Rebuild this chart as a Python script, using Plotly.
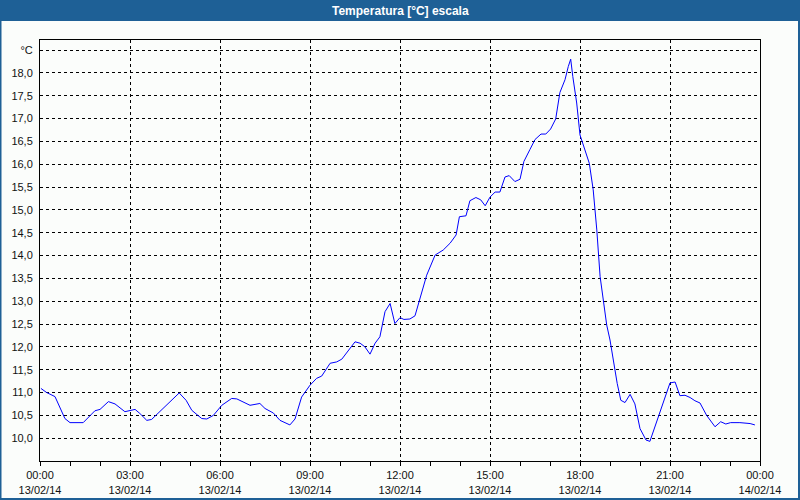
import plotly.graph_objects as go

# Time in hours since 13/02/14 00:00
hours = [0.03, 0.22, 0.5, 0.83, 1.0, 1.28, 1.44, 1.83, 2.0, 2.28, 2.5, 2.83, 3.0, 3.17, 3.33, 3.56, 3.72,
         4.33, 4.64, 4.87, 5.06, 5.39, 5.56, 5.78, 6.06, 6.39, 6.56, 7.0, 7.33, 7.5, 7.78, 8.0, 8.33, 8.5,
         8.72, 9.0, 9.22, 9.39, 9.67, 9.89, 10.06, 10.5, 10.67, 10.83, 11.0, 11.17, 11.33, 11.5, 11.67,
         11.83, 12.0, 12.13, 12.33, 12.5, 12.67, 12.89, 13.17, 13.44, 13.67, 13.87, 13.98, 14.2, 14.33,
         14.53, 14.69, 14.84, 15.0, 15.17, 15.33, 15.5, 15.64, 15.83, 16.0, 16.13, 16.33, 16.5, 16.7,
         16.86, 17.02, 17.19, 17.33, 17.5, 17.61, 17.69, 17.76, 17.89, 18.0, 18.17, 18.31, 18.44, 18.56,
         18.67, 18.78, 18.89, 19.0, 19.11, 19.24, 19.36, 19.5, 19.67, 19.83, 20.0, 20.2, 20.33, 20.56,
         20.78, 21.0, 21.17, 21.33, 21.5, 21.67, 21.83, 22.0, 22.22, 22.5, 22.69, 22.86, 23.02, 23.33,
         23.67, 23.83]
temps = [11.09, 11.0, 10.91, 10.43, 10.34, 10.33, 10.34, 10.6, 10.63, 10.8, 10.75, 10.58, 10.6, 10.63, 10.54,
         10.39, 10.41, 10.8, 10.99, 10.83, 10.61, 10.43, 10.42, 10.5, 10.72, 10.87, 10.86, 10.72, 10.76,
         10.65, 10.55, 10.39, 10.29, 10.42, 10.9, 11.16, 11.31, 11.36, 11.64, 11.67, 11.73, 12.11, 12.08,
         12.0, 11.84, 12.08, 12.22, 12.77, 12.95, 12.51, 12.64, 12.6, 12.61, 12.68, 13.08, 13.57, 14.01,
         14.12, 14.27, 14.45, 14.85, 14.87, 15.2, 15.27, 15.22, 15.09, 15.28, 15.39, 15.39, 15.72, 15.75,
         15.62, 15.67, 16.06, 16.32, 16.54, 16.66, 16.66, 16.77, 16.99, 17.57, 17.85, 18.14, 18.3, 17.92,
         17.34, 16.64, 16.32, 16.02, 15.44, 14.56, 13.54, 12.95, 12.48, 12.15, 11.71, 11.2, 10.83, 10.78,
         10.96, 10.75, 10.21, 9.96, 9.93, 10.36, 10.8, 11.21, 11.23, 10.93, 10.94, 10.89, 10.82, 10.77,
         10.5, 10.25, 10.36, 10.31, 10.34, 10.34, 10.32, 10.29]

x_tickvals = [0, 3, 6, 9, 12, 15, 18, 21, 24]
x_ticktext = ["00:00<br>13/02/14", "03:00<br>13/02/14", "06:00<br>13/02/14", "09:00<br>13/02/14",
              "12:00<br>13/02/14", "15:00<br>13/02/14", "18:00<br>13/02/14", "21:00<br>13/02/14",
              "00:00<br>14/02/14"]
y_tickvals = [10.0, 10.5, 11.0, 11.5, 12.0, 12.5, 13.0, 13.5, 14.0, 14.5, 15.0, 15.5, 16.0, 16.5,
              17.0, 17.5, 18.0, 18.5]
y_ticktext = ["10,0", "10,5", "11,0", "11,5", "12,0", "12,5", "13,0", "13,5", "14,0", "14,5", "15,0",
              "15,5", "16,0", "16,5", "17,0", "17,5", "18,0", "°C"]
title = "Temperatura [°C] escala"

W, H = 800, 500
L, R, T, B = 40, 40, 40, 39
pw, ph = W - L - R, H - T - B

def px(xp):
    return (xp - L) / pw

def py(yp):
    return (H - B - yp) / ph

BLUE = "rgb(30,96,150)"
BG = "rgb(251,253,251)"
FONT = "Liberation Sans, Arial, sans-serif"

fig = go.Figure()
fig.add_trace(go.Scatter(x=hours, y=temps, mode="lines",
                         line=dict(color="#0000ff", width=1), hoverinfo="skip"))

shapes = [
    dict(type="rect", xref="paper", yref="paper", x0=px(0), x1=px(W), y0=py(21), y1=py(0),
         fillcolor=BLUE, line=dict(width=0), layer="below"),
    dict(type="rect", xref="paper", yref="paper", x0=px(0), x1=px(1.5), y0=py(H), y1=py(0),
         fillcolor=BLUE, line=dict(width=0), layer="below"),
    dict(type="rect", xref="paper", yref="paper", x0=px(W - 2), x1=px(W), y0=py(H), y1=py(0),
         fillcolor=BLUE, line=dict(width=0), layer="below"),
    dict(type="rect", xref="paper", yref="paper", x0=px(0), x1=px(W), y0=py(H), y1=py(H - 2),
         fillcolor=BLUE, line=dict(width=0), layer="below"),
]

fig.update_layout(
    width=W, height=H, autosize=False,
    margin=dict(l=L, r=R, t=T, b=B, autoexpand=False),
    paper_bgcolor=BG, plot_bgcolor=BG,
    showlegend=False,
    font=dict(family=FONT, size=11, color="#111111"),
    shapes=shapes,
    annotations=[dict(text="<b>" + title + "</b>", xref="paper", yref="paper",
                      x=px(W / 2), y=py(10.5), xanchor="center", yanchor="middle",
                      showarrow=False, font=dict(color="white", size=12, family=FONT))],
)

fig.update_xaxes(range=[0, 24], tickvals=x_tickvals, ticktext=x_ticktext, tickangle=0,
                 showgrid=True, gridcolor="black", gridwidth=1, griddash="3px,3px",
                 showline=True, linecolor="black", linewidth=1, mirror=True,
                 ticks="outside", ticklen=4, tickcolor="black", zeroline=False,
                 minor=dict(dtick=1, ticks="outside", ticklen=4, tickcolor="black", showgrid=False))
fig.update_yaxes(range=[9.5, 18.72], tickvals=y_tickvals, ticktext=y_ticktext,
                 showgrid=True, gridcolor="black", gridwidth=1, griddash="3px,3px",
                 showline=True, linecolor="black", linewidth=1, mirror=True,
                 ticks="", ticklabelstandoff=4, zeroline=False)

fig.write_html("out.html")
